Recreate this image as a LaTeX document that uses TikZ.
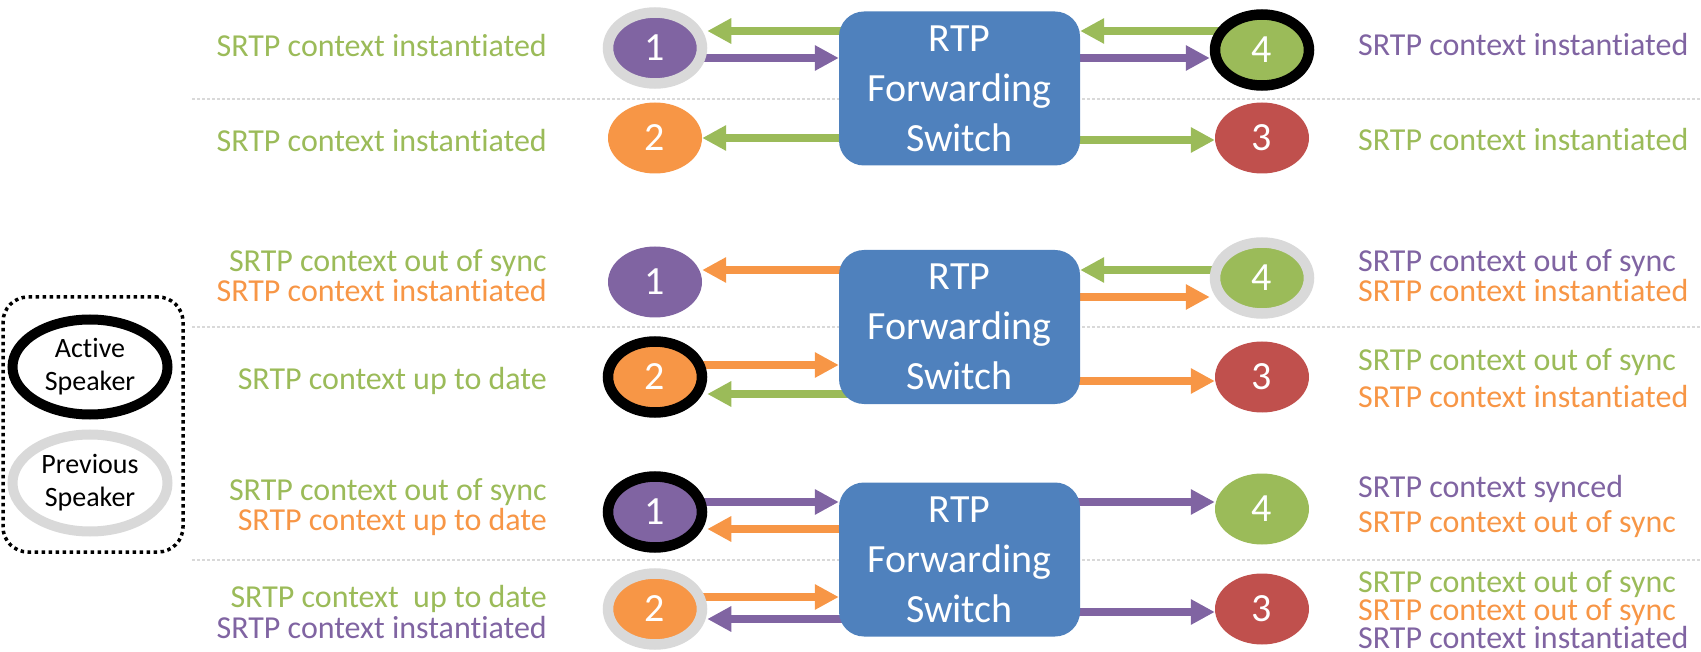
\documentclass[tikz,border=0pt]{standalone}
\usepackage{fontspec}
\setmainfont{Carlito}[Ligatures=NoCommon]
\usetikzlibrary{arrows.meta,shapes.geometric,backgrounds}
\definecolor{cPurple}{HTML}{8064A2}
\definecolor{cGreen}{HTML}{9BBB59}
\definecolor{cOrange}{HTML}{F79646}
\definecolor{cRed}{HTML}{C0504D}
\definecolor{cBlue}{HTML}{4F81BD}
\definecolor{cRing}{HTML}{D9D9D9}
\definecolor{cSep}{HTML}{D9D9D9}
\begin{document}
\begin{tikzpicture}[x=1pt,y=-1pt,
  party/.style={ellipse, minimum width=94pt, minimum height=71pt, inner sep=0pt,
    text=white, font=\fontsize{40}{40}\selectfont},
  activering/.style={draw=black, line width=10.5pt},
  prevring/.style={draw=cRing, line width=10.5pt},
  switchbox/.style={rectangle, rounded corners=25pt, fill=cBlue, minimum width=241pt,
    minimum height=154pt, inner sep=0pt, text=white, align=center,
    font=\fontsize{40}{50}\selectfont},
  lbl/.style={inner sep=0pt, text height=21pt, text depth=3pt,
    font=\fontsize{32}{32}\selectfont},
  leftlbl/.style={lbl, anchor=base east},
  rightlbl/.style={lbl, anchor=base west},
  sepline/.style={draw=cSep, line width=1.5pt, dash pattern=on 3pt off 2pt},
  arr/.style={line width=8pt, -{Triangle[length=24pt,width=24pt]}},
  legendbox/.style={draw=black, line width=3.5pt, dash pattern=on 3.5pt off 3.5pt,
    rounded corners=25pt, minimum width=180pt, minimum height=255pt, inner sep=0pt},
  legendring/.style={ellipse, line width=10pt, minimum width=155pt, inner sep=0pt,
    align=center, font=\fontsize{28}{33}\selectfont}
]
\useasboundingbox (0,0) rectangle (1701,652);

% ---------- switches ----------
\node[switchbox] (b1) at (959.5,88.5) {RTP\\Forwarding\\Switch};
\node[switchbox] (b2) at (959.5,327) {RTP\\Forwarding\\Switch};
\node[switchbox] (b3) at (959.5,559.5) {RTP\\Forwarding\\Switch};

% ---------- participants: first state ----------
\node[party, fill=cPurple, prevring] (a1) at (655,48) {1};
\node[party, fill=cOrange] (a2) at (655,138) {2};
\node[party, fill=cGreen, activering] (a4) at (1262,50) {4};
\node[party, fill=cRed] (a3) at (1262,138) {3};

% ---------- participants: second state ----------
\node[party, fill=cPurple] (m1) at (655,282) {1};
\node[party, fill=cOrange, activering] (m2) at (655,377) {2};
\node[party, fill=cGreen, prevring] (m4) at (1262,278) {4};
\node[party, fill=cRed] (m3) at (1262,377) {3};

% ---------- participants: third state ----------
\node[party, fill=cPurple, activering] (z1) at (655,512) {1};
\node[party, fill=cOrange, prevring] (z2) at (655,609) {2};
\node[party, fill=cGreen] (z4) at (1262,509) {4};
\node[party, fill=cRed] (z3) at (1262,609) {3};

% ---------- media flows and separators ----------
\begin{pgfonlayer}{background}
  \draw[sepline] (192,99) -- (1701,99);
  \draw[sepline] (192,327) -- (1701,327);
  \draw[sepline] (192,560) -- (1701,560);

  \draw[arr, cGreen]  (b1.center |- 0,31)  -- (a1.east |- 0,31);
  \draw[arr, cPurple] (a1.center |- 0,58)  -- (b1.west |- 0,58);
  \draw[arr, cGreen]  (b1.center |- 0,138) -- (a2.east |- 0,138);
  \draw[arr, cGreen]  (a4.center |- 0,31)  -- (b1.east |- 0,31);
  \draw[arr, cPurple] (b1.center |- 0,58)  -- (a4.west |- 0,58);
  \draw[arr, cGreen]  (b1.center |- 0,140) -- (a3.west |- 0,140);

  \draw[arr, cOrange] (b2.center |- 0,270) -- (m1.east |- 0,270);
  \draw[arr, cOrange] (m2.center |- 0,365) -- (b2.west |- 0,365);
  \draw[arr, cGreen]  (b2.center |- 0,394) -- (m2.east |- 0,394);
  \draw[arr, cGreen]  (m4.center |- 0,270) -- (b2.east |- 0,270);
  \draw[arr, cOrange] (b2.center |- 0,297) -- (m4.west |- 0,297);
  \draw[arr, cOrange] (b2.center |- 0,381) -- (m3.west |- 0,381);

  \draw[arr, cPurple] (z1.center |- 0,502) -- (b3.west |- 0,502);
  \draw[arr, cOrange] (b3.center |- 0,529) -- (z1.east |- 0,529);
  \draw[arr, cOrange] (z2.center |- 0,597) -- (b3.west |- 0,597);
  \draw[arr, cPurple] (b3.center |- 0,619) -- (z2.east |- 0,619);
  \draw[arr, cPurple] (b3.center |- 0,502) -- (z4.west |- 0,502);
  \draw[arr, cPurple] (b3.center |- 0,612) -- (z3.west |- 0,612);
\end{pgfonlayer}

% ---------- context states, left side ----------
\node[leftlbl, text=cGreen]  (la1)  at (547,57)  {SRTP context instantiated};
\node[leftlbl, text=cGreen]  (la2)  at (547,152) {SRTP context instantiated};
\node[leftlbl, text=cGreen]  (lm1a) at (547,272) {SRTP context out of sync};
\node[leftlbl, text=cOrange] (lm1b) at (547,302) {SRTP context instantiated};
\node[leftlbl, text=cGreen]  (lm2)  at (547,389) {SRTP context up to date};
\node[leftlbl, text=cGreen]  (lz1a) at (547,500) {SRTP context out of sync};
\node[leftlbl, text=cOrange] (lz1b) at (547,530) {SRTP context up to date};
\node[leftlbl, text=cGreen]  (lz2a) at (547,607) {SRTP context\ \ up to date};
\node[leftlbl, text=cPurple] (lz2b) at (547,638) {SRTP context instantiated};

% ---------- context states, right side ----------
\node[rightlbl, text=cPurple] (ra4)  at (1358,56)  {SRTP context instantiated};
\node[rightlbl, text=cGreen]  (ra3)  at (1358,151) {SRTP context instantiated};
\node[rightlbl, text=cPurple] (rm4a) at (1358,272) {SRTP context out of sync};
\node[rightlbl, text=cOrange] (rm4b) at (1358,302) {SRTP context instantiated};
\node[rightlbl, text=cGreen]  (rm3a) at (1358,371) {SRTP context out of sync};
\node[rightlbl, text=cOrange] (rm3b) at (1358,407) {SRTP context instantiated};
\node[rightlbl, text=cPurple] (rz4a) at (1358,497) {SRTP context synced};
\node[rightlbl, text=cOrange] (rz4b) at (1358,532) {SRTP context out of sync};
\node[rightlbl, text=cGreen]  (rz3a) at (1358,592) {SRTP context out of sync};
\node[rightlbl, text=cOrange] (rz3b) at (1358,620) {SRTP context out of sync};
\node[rightlbl, text=cPurple] (rz3c) at (1358,648) {SRTP context instantiated};

% ---------- legend ----------
\node[legendbox] (legend) at (93,424.5) {};
\node[legendring, draw=black, minimum height=95pt] (leact) at (90,367) {Active\\Speaker};
\node[legendring, draw=cRing, minimum height=97pt] (leprev) at (90,483) {Previous\\Speaker};
\end{tikzpicture}
\end{document}
